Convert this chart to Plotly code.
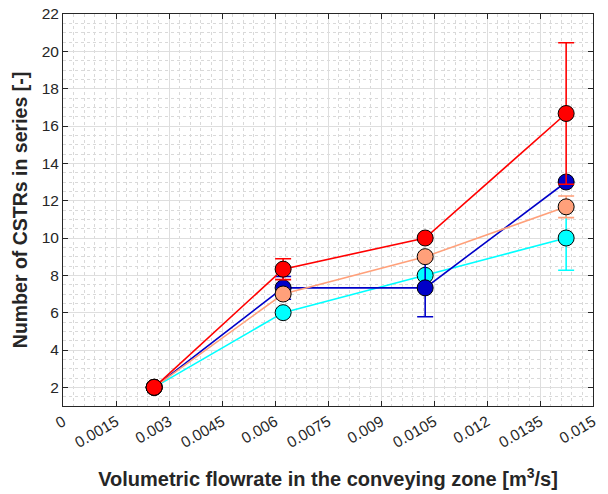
import plotly.graph_objects as go

# Volumetric flowrate in the conveying zone [m^3/s]
flowrate = [0.00258, 0.00623, 0.01025, 0.01424]

# Number of CSTRs in series for each data set, with symmetric error bars
series_names = ["Set C", "Set B", "Set D", "Set A"]
series_colors = ["#00FFFF", "#0000C8", "#FFA07A", "#FF0000"]
n_cstr = [
    [2, 6, 8, 10],
    [2, 7.33, 7.33, 13],
    [2, 7, 9, 11.67],
    [2, 8.33, 10, 16.67],
]
n_err = [
    [0, 0, 0, 1.73],
    [0, 0.61, 1.55, 0],
    [0, 0, 0, 0.58],
    [0, 0.56, 0, 3.79],
]

x_ticks = [0, 0.0015, 0.003, 0.0045, 0.006, 0.0075, 0.009, 0.0105, 0.012, 0.0135, 0.015]
x_tick_text = ["0", "0.0015", "0.003", "0.0045", "0.006", "0.0075", "0.009", "0.0105", "0.012", "0.0135", "0.015"]
y_ticks = [2, 4, 6, 8, 10, 12, 14, 16, 18, 20, 22]

fig = go.Figure()
for name, color, yv, ev in zip(series_names, series_colors, n_cstr, n_err):
    fig.add_trace(go.Scatter(
        x=flowrate, y=yv, name=name, mode="lines+markers",
        line=dict(color=color, width=1.6),
        marker=dict(size=16, color=color, line=dict(color="#000000", width=1)),
        error_y=dict(type="data", array=ev, visible=True, color=color,
                     thickness=1.6, width=8),
    ))

font_family = "Liberation Sans, Arial, sans-serif"
axis_common = dict(
    showline=True, linecolor="#262626", linewidth=1, mirror="ticks",
    ticks="inside", ticklen=5, tickcolor="#262626",
    showgrid=True, gridcolor="#DEDEDE", gridwidth=1,
    zeroline=False, automargin=False,
    tickfont=dict(family=font_family, size=15.5, color="#262626"),
)

fig.update_xaxes(
    range=[0, 0.015], tickvals=x_ticks, ticktext=x_tick_text, tickangle=-30,
    minor=dict(dtick=0.0003, showgrid=True, gridcolor="#D9D9D9", griddash="dot", gridwidth=1),
    title=dict(text="Volumetric flowrate in the conveying zone [m<sup>3</sup>/s]",
               font=dict(family=font_family, size=20, color="#262626", weight="bold"),
               standoff=22),
    **axis_common,
)
fig.update_yaxes(
    range=[1, 22], tickvals=y_ticks,
    minor=dict(dtick=0.5, showgrid=True, gridcolor="#D9D9D9", griddash="dot", gridwidth=1),
    title=dict(text="Number of CSTRs in series [-]",
               font=dict(family=font_family, size=19.5, color="#262626", weight="bold"),
               standoff=8),
    **axis_common,
)

fig.update_layout(
    width=608, height=494,
    margin=dict(l=63, r=15, t=14, b=88),
    paper_bgcolor="white", plot_bgcolor="white",
    showlegend=False,
)

fig.write_html("out.html")
